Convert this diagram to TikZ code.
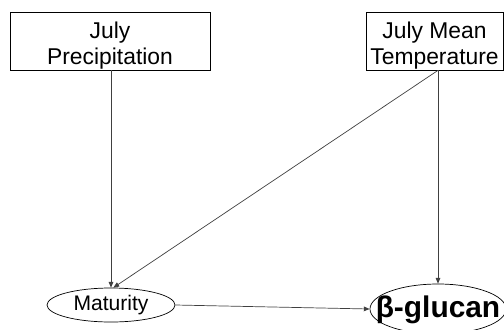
\documentclass[tikz,border=0pt]{standalone}
\usepackage{fontspec}
\setmainfont{Liberation Sans}
\usetikzlibrary{arrows.meta,shapes.geometric}

\begin{document}
\begin{tikzpicture}[x=0.03cm,y=-0.03cm,line width=0.6pt,>={Triangle[length=5pt,width=4pt]}]
  \useasboundingbox (0,0) rectangle (504,329);
  \tikzset{var/.style={draw,rectangle,inner sep=0pt,minimum height=58*0.03cm},
           vartext/.style={align=center,inner sep=0pt,font=\fontsize{19.5}{22}\selectfont,yshift=-4pt},
           lat/.style={draw,ellipse,inner sep=0pt}}

  \node[var,minimum width=200*0.03cm,
        label={[vartext]center:July\\Precipitation}] (P) at (110,41) {};
  \node[var,minimum width=137*0.03cm,
        label={[vartext]center:July Mean\\Temperature}] (T) at (434.5,41) {};
  \node[lat,minimum width=128*0.03cm,minimum height=34*0.03cm,
        font=\fontsize{18}{20}\selectfont] (M) at (111,305) {Maturity};
  \node[lat,minimum width=136*0.03cm,minimum height=50*0.03cm,
        label={[font=\fontsize{25.5}{28}\bfseries,inner sep=0pt,yshift=-1pt]center:β-glucan}] (B) at (438,309) {};

  \draw[->,black!75] (P.south -| M.north) -- (M.north);
  \draw[->,black!75] (T.south -| B.north) -- (B.north);
  \draw[->,black!75] (T.south -| B.north) -- ([xshift=2pt]M.north);
  \draw[->,black!75] (M.east) -- (B.west);
\end{tikzpicture}
\end{document}
